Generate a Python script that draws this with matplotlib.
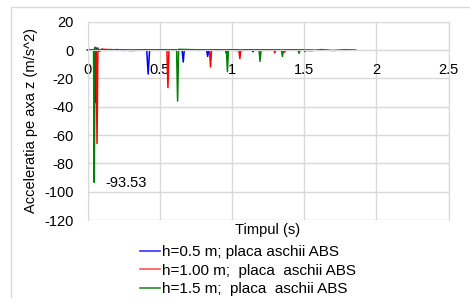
import matplotlib
matplotlib.use("Agg")
import matplotlib.pyplot as plt
from matplotlib.patches import Rectangle
from matplotlib.lines import Line2D

plt.rcParams['font.family'] = ['Liberation Sans', 'DejaVu Sans']

# ---- data ----
t_blue = [0.0, 0.045, 0.050, 0.054, 0.060, 0.070, 0.10, 0.15, 0.20, 0.30, 0.41, 0.420, 0.430,
          0.50, 0.655, 0.663, 0.670, 0.75, 0.825, 0.832, 0.840, 0.90, 0.955, 0.963, 0.970,
          1.05, 1.140, 1.145, 1.150, 1.22, 1.30]
a_blue = [0.0, 0.3, 0.5, -37.0, 1.5, -0.5, 0.4, -0.2, 0.3, -0.3, 0.0, -17.0, 0.0,
          0.2, 0.0, -8.5, 0.0, 0.2, 0.0, -4.5, 0.0, 0.2, 0.0, -2.5, 0.0,
          -0.3, 0.0, -1.2, 0.0, -0.2, 0.0]

t_red = [0.0, 0.060, 0.066, 0.072, 0.080, 0.10, 0.15, 0.25, 0.40, 0.550, 0.557, 0.564,
         0.70, 0.845, 0.852, 0.859, 0.95, 1.048, 1.055, 1.062, 1.15, 1.290, 1.297, 1.304,
         1.360, 1.366, 1.372, 1.45, 1.500, 1.505, 1.510, 1.56]
a_red = [0.0, 0.2, -66.0, 1.5, -0.5, 0.5, 0.3, -0.2, 0.2, 0.0, -26.5, 0.0,
         0.2, 0.0, -12.0, 0.0, 0.2, 0.0, -6.0, 0.0, 0.2, 0.0, -2.0, 0.0,
         0.0, -1.5, 0.0, 0.2, 0.0, -1.0, 0.0, 0.0]

t_green = [0.0, 0.042, 0.047, 0.052, 0.060, 0.070, 0.080, 0.10, 0.12, 0.16, 0.25, 0.40,
           0.617, 0.624, 0.631, 0.75, 0.90, 0.962, 0.969, 0.976, 1.10, 1.188, 1.195, 1.202,
           1.28, 1.343, 1.350, 1.357, 1.40, 1.458, 1.465, 1.472, 1.55, 1.62, 1.70, 1.78, 1.857]
a_green = [0.0, 0.2, -93.53, 2.0, -0.5, 1.0, -1.0, 0.5, -0.3, 0.3, -0.2, 0.2,
           0.0, -36.0, 0.5, 0.2, -0.2, 0.0, -15.3, 0.0, 0.2, 0.0, -8.0, 0.0,
           0.2, 0.0, -4.5, 0.0, 0.2, 0.0, -2.3, 0.0, -0.4, 0.3, -0.3, 0.2, 0.0]

labels = ["h=0.5 m; placa aschii ABS",
          "h=1.00 m;  placa  aschii ABS",
          "h=1.5 m;  placa  aschii ABS"]
colors = ["#0000FF", "#FF0000", "#008000"]
legend_colors = ["#3333FF", "#FF5555", "#2E8B2E"]

x_ticks = [0, 0.5, 1, 1.5, 2, 2.5]
y_ticks = [20, 0, -20, -40, -60, -80, -100, -120]
peak_label = "-93.53"
peak_t, peak_v = 0.047, -93.53

FS = 10.5
LFS = 11.0
W, H = 470, 298
fig = plt.figure(figsize=(W / 100, H / 100), dpi=100)

# chart border
fig.patches.append(Rectangle((11 / W, -0.1), 1.2, 1 - 7 / H + 0.1, transform=fig.transFigure,
                             fill=False, edgecolor="#d9d9d9", linewidth=1.0))

ax = fig.add_axes([87.5 / W, 1 - 220 / H, 361 / W, 198.3 / H])
ax.set_xlim(0, 2.5)
ax.set_ylim(-120, 20)
ax.set_xticks(x_ticks)
ax.set_xticklabels([f"{v:g}" for v in x_ticks])
ax.set_yticks(y_ticks)
ax.set_yticklabels([f"{v:g}" for v in y_ticks])
ax.grid(True, color="#d9d9d9", linewidth=1.0)
ax.set_axisbelow(True)
for s in ax.spines.values():
    s.set_color("#d9d9d9")
ax.spines['bottom'].set_position(('data', 0))
ax.tick_params(axis='both', length=0, labelsize=FS, colors="black")
ax.tick_params(axis='x', pad=9)
ax.tick_params(axis='y', pad=10)

for t, a, c in zip([t_blue, t_red, t_green], [a_blue, a_red, a_green], colors):
    ax.plot(t, a, color=c, linewidth=1.1, clip_on=False)

ax.annotate(peak_label, xy=(peak_t, peak_v), xytext=(8, 0), textcoords='offset points',
            ha='left', va='center', fontsize=FS)

ax.set_xlabel("Timpul (s)", fontsize=FS)
ax.xaxis.set_label_coords(0.5, -0.015)
ax.set_ylabel("Acceleratia pe axa z (m/s^2)", fontsize=FS)
ax.yaxis.set_label_coords(-0.137, 0.5)

handles = [Line2D([0], [0], color=c, linewidth=1.2) for c in legend_colors]
fig.legend(handles, labels, loc='upper left', bbox_to_anchor=(140 / W, 1 - 245 / H),
           frameon=False, fontsize=LFS, handlelength=1.3, handletextpad=0.12,
           labelspacing=0.3, borderpad=0.0, borderaxespad=0.0)

fig.savefig("out.png", dpi=100)
